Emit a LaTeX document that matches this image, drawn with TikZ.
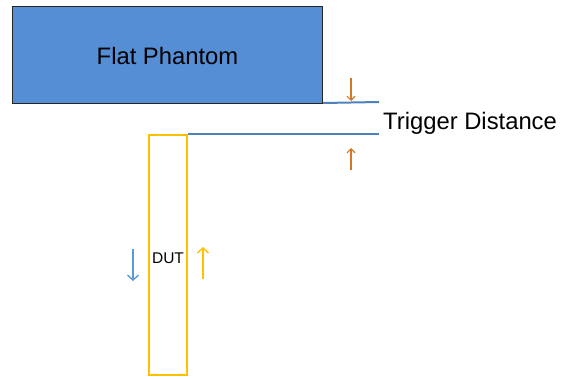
\documentclass[tikz,border=0pt]{standalone}
\usepackage{fontspec}
\setmainfont{Liberation Sans}
\usetikzlibrary{arrows.meta}
\definecolor{phfill}{RGB}{85,142,213}
\definecolor{lineblue}{RGB}{79,129,189}
\definecolor{gold}{RGB}{255,192,0}
\definecolor{darkorange}{RGB}{210,120,40}
\definecolor{lightblue}{RGB}{91,155,213}
\tikzset{
  phantom/.style={draw=black!85, line width=1pt, fill=phfill, inner sep=0pt},
  dut/.style={draw=gold, line width=2.4pt, inner sep=0pt},
  level/.style={draw=lineblue, line width=2pt},
  marker/.style={line width=1.2pt, -{Straight Barb[length=4pt,width=8pt]}},
  bigmarker/.style={line width=1.4pt, -{Straight Barb[length=5pt,width=11pt]}},
  lbl/.style={inner sep=0pt, font=\fontsize{23.8}{27}\selectfont}
}
\begin{document}
\begin{tikzpicture}[x=1pt,y=-1pt]
\useasboundingbox (0,0) rectangle (561,378);
\node[phantom, minimum width=310pt, minimum height=97pt, anchor=north west] (ph) at (12,6) {};
\node[lbl] (phl) at ([yshift=-1pt]ph.center) {Flat Phantom};
\node[dut, minimum width=38pt, minimum height=240pt, anchor=north west] (dut) at (148,134) {};
\node[inner sep=0pt, font=\fontsize{15.5}{18}\selectfont] (dutl) at (168,258) {DUT};
\coordinate (l1a) at (ph.south east);
\coordinate (l1b) at (379,102);
\coordinate (l2a) at (dut.north east);
\coordinate (l2b) at (379,134);
\draw[level] ([yshift=1pt]l1a) -- (l1b);
\draw[level] (l2a) -- (l2b);
\node[lbl, anchor=west] (td) at (383,123) {Trigger Distance};
\coordinate (d1) at (351,78);
\coordinate (d2) at (351,101);
\coordinate (u1) at (351,170);
\coordinate (u2) at (351,148);
\draw[marker, draw=darkorange] (d1) -- (d2);
\draw[marker, draw=darkorange] (u1) -- (u2);
\coordinate (b1) at (133,249);
\coordinate (b2) at (133,281);
\coordinate (y1) at (203,279);
\coordinate (y2) at (203,247);
\draw[bigmarker, draw=lightblue] (b1) -- (b2);
\draw[bigmarker, draw=gold] (y1) -- (y2);
\end{tikzpicture}
\end{document}
